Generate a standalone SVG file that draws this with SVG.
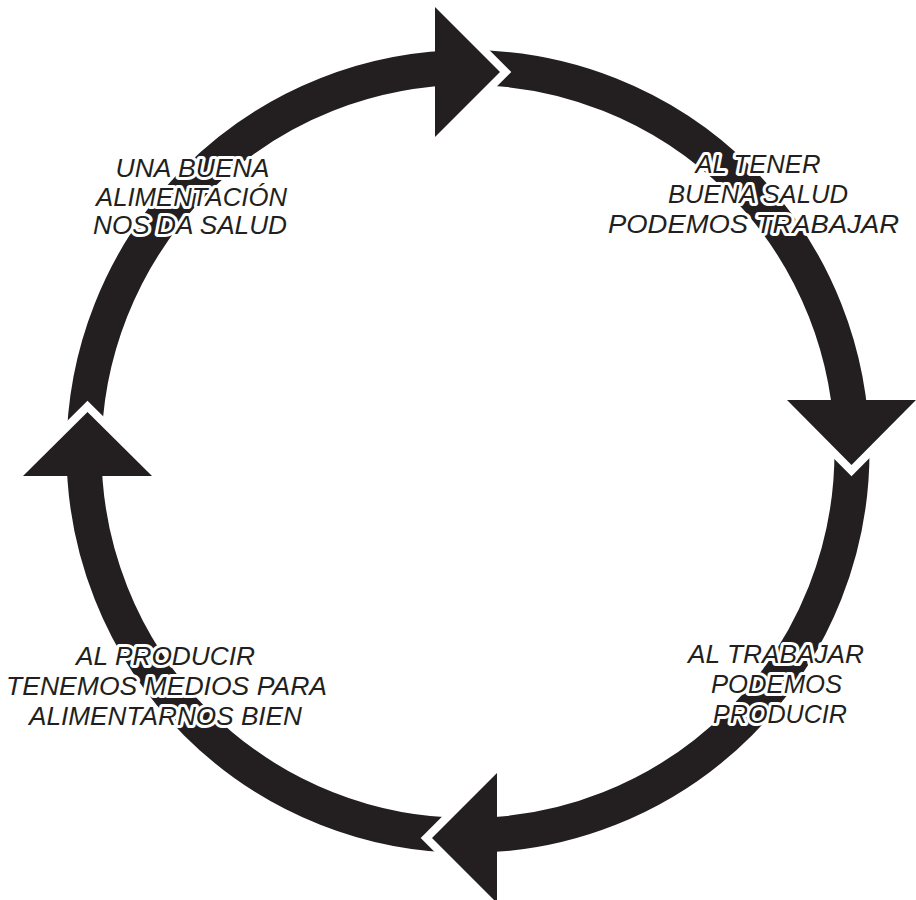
<svg xmlns="http://www.w3.org/2000/svg" width="916" height="900" viewBox="0 0 916 900">
<defs>
<style>
.ring{fill:none;stroke:#231f20;stroke-width:35}
.gap{fill:none;stroke:#ffffff;stroke-width:16;stroke-linejoin:miter;stroke-miterlimit:10}
.head{fill:#231f20;stroke:none}
.lbl{font-family:"Liberation Sans",Arial,sans-serif;font-style:italic;font-size:25px;fill:#231f20;stroke:#ffffff;stroke-width:6;stroke-linejoin:round;paint-order:stroke;text-anchor:middle}
</style>
</defs>
<rect x="0" y="0" width="916" height="900" fill="#ffffff"/>
<g id="connectors">
<circle class="ring" cx="468" cy="451.5" r="384"/>
<polyline class="gap" points="435,7 500,72 435,137"/>
<polyline class="gap" points="787,400 851.5,465 916,400"/>
<polyline class="gap" points="497,773 432,838 497,903"/>
<polyline class="gap" points="23,476 87.5,412 152,476"/>
<polygon class="head" points="435,7 500,72 435,137"/>
<polygon class="head" points="787,400 851.5,465 916,400"/>
<polygon class="head" points="497,773 432,838 497,903"/>
<polygon class="head" points="23,476 87.5,412 152,476"/>
</g>
<g id="label-alimentacion">
<text class="lbl" x="192.5" y="177" textLength="154" lengthAdjust="spacingAndGlyphs">UNA BUENA</text>
<text class="lbl" x="191.5" y="205.5" textLength="191" lengthAdjust="spacingAndGlyphs">ALIMENTACIÓN</text>
<text class="lbl" x="190" y="234" textLength="194" lengthAdjust="spacingAndGlyphs">NOS DA SALUD</text>
</g>
<g id="label-salud">
<text class="lbl" x="758" y="173" textLength="125" lengthAdjust="spacingAndGlyphs">AL TENER</text>
<text class="lbl" x="758" y="203" textLength="180" lengthAdjust="spacingAndGlyphs">BUENA SALUD</text>
<text class="lbl" x="753.5" y="233" textLength="291" lengthAdjust="spacingAndGlyphs">PODEMOS TRABAJAR</text>
</g>
<g id="label-trabajar">
<text class="lbl" x="776" y="663" textLength="176" lengthAdjust="spacingAndGlyphs">AL TRABAJAR</text>
<text class="lbl" x="776.5" y="693" textLength="131" lengthAdjust="spacingAndGlyphs">PODEMOS</text>
<text class="lbl" x="780" y="723" textLength="134" lengthAdjust="spacingAndGlyphs">PRODUCIR</text>
</g>
<g id="label-producir">
<text class="lbl" x="165.5" y="665" textLength="179" lengthAdjust="spacingAndGlyphs">AL PRODUCIR</text>
<text class="lbl" x="166.5" y="695" textLength="321" lengthAdjust="spacingAndGlyphs">TENEMOS MEDIOS PARA</text>
<text class="lbl" x="165.5" y="725" textLength="273" lengthAdjust="spacingAndGlyphs">ALIMENTARNOS BIEN</text>
</g>
</svg>
